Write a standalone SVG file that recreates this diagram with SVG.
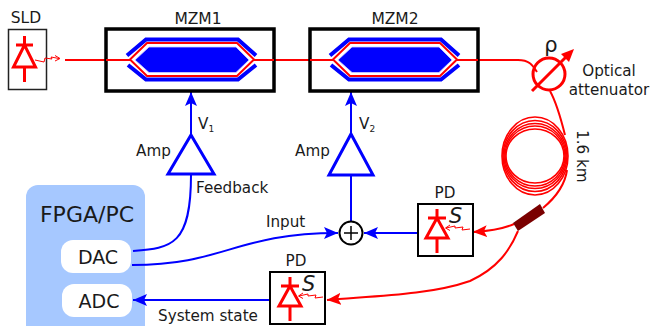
<svg xmlns="http://www.w3.org/2000/svg" width="652" height="326" viewBox="0 0 652 326">
<style>
text{font-family:"DejaVu Sans",sans-serif;font-size:15.200px;fill:#1a1a1a}
.m{text-anchor:middle}
.r{fill:none;stroke:#f00;stroke-width:2}
.b{fill:none;stroke:#00f;stroke-width:2}
.t{fill:none;stroke:#f00;stroke-width:1}
.box{fill:#fff;stroke:#000;stroke-width:2}
.mz{fill:#fff;stroke:#000;stroke-width:3.5}
.amp{fill:#fff;stroke:#00f;stroke-width:3}
.d{fill:none;stroke:#f00;stroke-width:3}
</style>
<defs>
<marker id="ab" markerWidth="15" markerHeight="13" refX="14" refY="6" orient="auto" markerUnits="userSpaceOnUse" viewBox="0 0 15 12"><path d="M0,0L14,6L0,12L3,6Z" fill="#00f"/></marker>
<marker id="ar" markerWidth="15" markerHeight="13" refX="14" refY="6" orient="auto" markerUnits="userSpaceOnUse" viewBox="0 0 15 12"><path d="M0,0L14,6L0,12L3,6Z" fill="#f00"/></marker>
<g id="mzi">
<path d="M135,60L149,47H236L249,60L236,72.500H149Z" fill="#00f" stroke="#cfd0ff" stroke-width="0.800"/>
<path d="M127,55.500L146,39.500H238L256,55.500M128,65L146,79.500H238L256,65" fill="none" stroke="#00f" stroke-width="4"/>
<path d="M130,59.500L147,43H237L254,59.500L237,76H147Z" fill="none" stroke="#f00" stroke-width="2"/>
</g>
<g id="diode">
<path d="M0,-9V0M-9,0H9M0,0L-11,20H11ZM0,20V35" class="d"/>
</g>
</defs>
<g id="fpga">
<rect x="26" y="185" width="119" height="160" rx="12" fill="#a6c8ff"/>
<text x="87" y="222" class="m" style="font-size:22px">FPGA/PC</text>
</g>
<g id="dac"><rect x="61" y="240" width="70" height="33" rx="12" fill="#fff"/><text x="98" y="264" class="m" style="font-size:19px">DAC</text></g>
<g id="adc"><rect x="62" y="284" width="70" height="33" rx="12" fill="#fff"/><text x="99" y="308" class="m" style="font-size:19px">ADC</text></g>
<g id="connectors">
<path class="r" d="M65,60H130M254,60H310M478,60H518C530,60 533,66 537,72"/>
<path class="r" d="M550,91C555,100 560,115 565,135"/>
<path class="r" d="M567,170C565,185 555,198 543,208"/>
<path class="r" d="M514,224C503,229 490,231 473,232" marker-end="url(#ar)"/>
<path class="r" d="M518,231C510,250 498,268 470,281C430,295 375,296 327,300" marker-end="url(#ar)"/>
<path class="b" d="M191,135V92" marker-end="url(#ab)"/>
<path class="b" d="M351,133V92" marker-end="url(#ab)"/>
<path class="b" d="M351,175V221"/>
<path class="b" d="M133,251C172,248 191,245 191,175"/>
<path class="b" d="M132,265C225,265 235,233 338,233" marker-end="url(#ab)"/>
<path class="b" d="M417,233H364" marker-end="url(#ab)"/>
<path class="b" d="M270,300H133" marker-end="url(#ab)"/>
</g>
<g id="sld">
<rect x="8.500" y="29.500" width="38" height="60" fill="#fff" stroke="#222" stroke-width="1.500"/>
<path class="d" d="M24.500,36V45M16,45H33M24.500,45L13.500,67H35.500ZM24.500,67V82"/>
<path class="t" d="M35,60L44,62L45,58L52,59L51,57L59,58.500"/>
<path d="M55,55.500L60,58.500L55,61" fill="none" stroke="#f00"/>
<text x="26" y="23" class="m" style="font-size:15.500px">SLD</text>
</g>
<g id="mzm1">
<rect class="mz" x="106" y="29" width="168" height="62"/>
<path class="r" d="M106,60H130M254,60H274"/>
<use href="#mzi"/>
<text x="198" y="24" class="m" style="font-size:15.500px">MZM1</text>
</g>
<g id="mzm2">
<rect class="mz" x="310" y="29" width="168" height="62"/>
<path class="r" d="M310,60H333M457,60H478"/>
<use href="#mzi" x="203"/>
<text x="395" y="24" class="m" style="font-size:15.500px">MZM2</text>
</g>
<g id="attenuator">
<circle cx="549" cy="74" r="16" fill="none" stroke="#f00" stroke-width="3"/>
<path d="M532,91L567,56" stroke="#f00" stroke-width="3" fill="none"/>
<path d="M574,49L569,62L561,54Z" fill="#f00"/>
<text x="551" y="52" class="m" style="font-size:21px">ρ</text>
<text x="609" y="76" class="m">Optical</text>
<text x="609" y="95" class="m">attenuator</text>
</g>
<g id="coil" fill="none" stroke="#f00" stroke-width="1.600">
<ellipse cx="535" cy="156" rx="33" ry="39"/>
<ellipse cx="535" cy="156" rx="32" ry="35.500"/>
<ellipse cx="535" cy="156" rx="31" ry="32.500"/>
<ellipse cx="535" cy="156" rx="30" ry="30"/>
<ellipse cx="535" cy="156" rx="29" ry="27"/>
<text transform="translate(577,130) rotate(90)" stroke="none" style="fill:#1a1a1a">1.6 km</text>
</g>
<g id="coupler"><path d="M540,204L545,213L518,231L513,223Z" fill="#7a0000"/></g>
<g id="amp1"><path class="amp" d="M191,135L214,174H168Z"/><text x="136" y="156">Amp</text>
<text x="198" y="129">V<tspan dy="3" style="font-size:9px">1</tspan></text></g>
<g id="amp2"><path class="amp" d="M351,134L373,175H329Z"/><text x="295" y="156">Amp</text>
<text x="359" y="129">V<tspan dy="3" style="font-size:9px">2</tspan></text></g>
<g id="sum">
<circle cx="351" cy="233" r="11.500" fill="#fff" stroke="#000" stroke-width="2"/>
<path d="M344,233H358M351,226V240" stroke="#000" stroke-width="1.500" fill="none"/>
</g>
<g id="pd1">
<rect class="box" x="418" y="204" width="55" height="52"/>
<use href="#diode" x="437" y="218"/>
<path class="t" d="M470,229L462,230L463,227L455,228L455,226L446,228"/>
<path d="M450,225L445.500,228L450,230.500" fill="none" stroke="#f00"/>
<text x="449" y="223" style="font-size:21px;font-style:italic">S</text>
<text x="445" y="198" class="m">PD</text>
</g>
<g id="pd2">
<rect class="box" x="270" y="272" width="55" height="52"/>
<use href="#diode" x="290" y="286"/>
<path class="t" d="M323,297L315,298L316,295L308,296L308,294L299,296"/>
<path d="M303,293L298.500,296L303,298.500" fill="none" stroke="#f00"/>
<text x="302" y="291" style="font-size:21px;font-style:italic">S</text>
<text x="296" y="266" class="m">PD</text>
</g>
<text x="196" y="193">Feedback</text>
<text x="266" y="227">Input</text>
<text x="158" y="321">System state</text>
</svg>
